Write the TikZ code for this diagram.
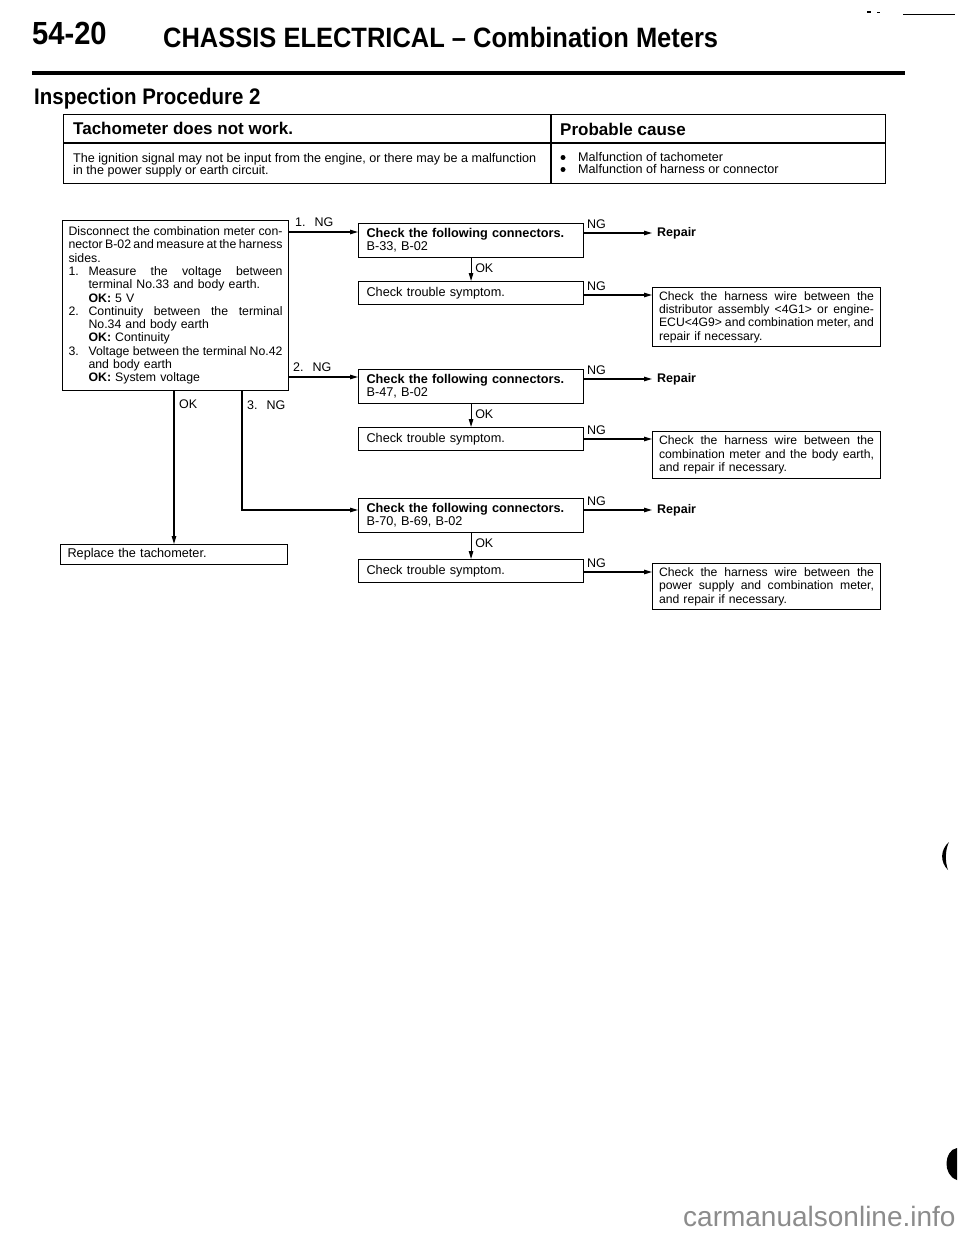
\documentclass[tikz,border=0pt]{standalone}
\usepackage{fontspec}
\setmainfont{Liberation Sans}
\newfontfamily\condfont[FakeStretch=0.91]{Liberation Sans}
\usetikzlibrary{arrows.meta,calc}
\newcommand{\jl}[2]{\leavevmode\hbox to #1{\spaceskip=0.27em plus 1fil minus 0.12em\relax #2}}
\newcommand{\il}[3]{\leavevmode\hbox to #1{\spaceskip=0.27em plus 1fil minus 0.12em\relax\hbox to 20pt{#2\hss}#3}}
\newcommand{\ic}[1]{\hspace*{20pt}#1}
\begin{document}
\begin{tikzpicture}[x=1pt,y=-1pt,
  frame/.style={draw, line width=1.1pt, anchor=north west, align=left, inner ysep=0pt},
  lbox/.style={text width=214pt, inner xsep=6pt, font=\fontsize{12.3}{13.3}\selectfont},
  mbox/.style={text width=209pt, inner xsep=8pt, font=\fontsize{12.7}{13}\selectfont},
  wbox/.style={text width=215pt, inner xsep=6.5pt, font=\fontsize{12.2}{13.3}\selectfont},
  lbl/.style={anchor=base west, inner sep=0pt, font=\fontsize{12.5}{14}\selectfont},
  rep/.style={anchor=west, inner xsep=5pt, inner ysep=0pt, font=\bfseries\fontsize{12.5}{14}\selectfont},
  arr/.style={line width=1.1pt, -{Triangle[length=8pt,width=4.5pt]}},
  ln/.style={line width=1.1pt}]
\useasboundingbox (0,0) rectangle (960,1239);
\fill[white] (0,0) rectangle (960,1239);

% header
\node[anchor=base west, inner sep=0pt, font=\condfont\bfseries\fontsize{32}{36}\selectfont] (pg) at (32,45) {54-20};
\node[anchor=base west, inner sep=0pt, font=\condfont\bfseries\fontsize{28}{32}\selectfont] (title) at (163,48) {CHASSIS ELECTRICAL – Combination Meters};
\draw[line width=4pt] (32,73) -- (905,73);
\node[anchor=base west, inner sep=0pt, font=\condfont\bfseries\fontsize{22.5}{26}\selectfont] (insp) at (34,104) {Inspection Procedure 2};

% table
\node[draw, line width=1.3pt, anchor=north west, minimum width=822pt, minimum height=69pt, inner sep=0pt] (tbl) at (63,114) {};
\draw[line width=1.3pt] (tbl.west |- 0,143) -- (tbl.east |- 0,143);
\draw[line width=1.3pt] (tbl.north -| 551,0) -- (tbl.south -| 551,0);
\node[anchor=base west, inner sep=0pt, font=\bfseries\fontsize{17}{20}\selectfont] (sym) at (73,134) {Tachometer does not work.};
\node[anchor=base west, inner sep=0pt, font=\bfseries\fontsize{17}{20}\selectfont] (pc) at (560,135) {Probable cause};
\node[anchor=base west, inner sep=0pt, font=\fontsize{12.6}{12}\selectfont] (d1) at (73,162) {The ignition signal may not be input from the engine, or there may be a malfunction};
\node[anchor=base west, inner sep=0pt, font=\fontsize{12.6}{12}\selectfont] (d2) at (73,174) {in the power supply or earth circuit.};
\node[circle, fill, inner sep=0pt, minimum size=5pt] (b1) at (563,157.5) {};
\node[circle, fill, inner sep=0pt, minimum size=5pt] (b2) at (563,169.5) {};
\node[anchor=base west, inner sep=0pt, font=\fontsize{12.6}{12}\selectfont] (c1) at (578,161) {Malfunction of tachometer};
\node[anchor=base west, inner sep=0pt, font=\fontsize{12.6}{12}\selectfont] (c2) at (578,173) {Malfunction of harness or connector};

% left column
\node[frame, lbox, minimum height=170pt] (L) at (62,220) {%
\jl{214pt}{Disconnect the combination meter con-}\\
\jl{214pt}{nector B-02 and measure at the harness}\\
sides.\\
\il{214pt}{1.}{Measure the voltage between}\\
\ic{terminal No.33 and body earth.}\\
\ic{\textbf{OK:} 5 V}\\
\il{214pt}{2.}{Continuity between the terminal}\\
\ic{No.34 and body earth}\\
\ic{\textbf{OK:} Continuity}\\
\il{214pt}{3.}{Voltage between the terminal No.42}\\
\ic{and body earth}\\
\ic{\textbf{OK:} System voltage}};
\node[frame, text width=213pt, inner xsep=7pt, minimum height=20pt, font=\fontsize{12.7}{13}\selectfont] (R) at (60,544) {Replace the tachometer.};

% middle column
\node[frame, mbox, minimum height=34pt] (m1) at (358,223) {\textbf{Check the following connectors.}\\B-33, B-02};
\node[frame, mbox, minimum height=23pt] (m2) at (358,281) {Check trouble symptom.};
\node[frame, mbox, minimum height=34pt] (m3) at (358,369) {\textbf{Check the following connectors.}\\B-47, B-02};
\node[frame, mbox, minimum height=23pt] (m4) at (358,427) {Check trouble symptom.};
\node[frame, mbox, minimum height=34pt] (m5) at (358,498) {\textbf{Check the following connectors.}\\B-70, B-69, B-02};
\node[frame, mbox, minimum height=23pt] (m6) at (358,559) {Check trouble symptom.};

% right column
\node[rep] (r1) at (652,233) {Repair};
\node[frame, wbox, minimum height=59pt] (h1) at (652,287) {%
\jl{215pt}{Check the harness wire between the}\\
\jl{215pt}{distributor assembly <4G1> or engine-}\\
\jl{215pt}{ECU<4G9> and combination meter, and}\\
repair if necessary.};
\node[rep] (r2) at (652,379) {Repair};
\node[frame, wbox, minimum height=47pt] (h2) at (652,431) {%
\jl{215pt}{Check the harness wire between the}\\
\jl{215pt}{combination meter and the body earth,}\\
and repair if necessary.};
\node[rep] (r3) at (652,510) {Repair};
\node[frame, wbox, minimum height=46pt] (h3) at (652,563) {%
\jl{215pt}{Check the harness wire between the}\\
\jl{215pt}{power supply and combination meter,}\\
and repair if necessary.};

% connectors from the left box
\draw[arr] (L.east |- 0,232) -- (m1.west |- 0,232);
\node[lbl] (n1) at (295,226) {1.\hspace{9pt}NG};
\draw[arr] (L.east |- 0,377) -- (m3.west |- 0,377);
\node[lbl] (n2) at (293,371) {2.\hspace{9pt}NG};
\draw[arr] (L.south -| 242,0) |- (m5.west |- 0,510);
\node[lbl] (n3) at (247,409) {3.\hspace{9pt}NG};
\draw[arr] (L.south -| 174,0) -- (R.north -| 174,0);
\node[lbl] (ok0) at (179,408) {OK};

% OK arrows in the middle
\draw[arr] (m1.south) -- (m2.north);
\node[lbl] (ok1) at ($(m1.south)+(4,14)$) {OK};
\draw[arr] (m3.south) -- (m4.north);
\node[lbl] (ok2) at ($(m3.south)+(4,14)$) {OK};
\draw[arr] (m5.south) -- (m6.north);
\node[lbl] (ok3) at ($(m5.south)+(4,14)$) {OK};

% NG arrows to the right
\draw[arr] (m1.east |- 0,233) -- (r1.west);
\node[lbl] (g1) at (587,228) {NG};
\draw[arr] (m2.east |- 0,295) -- (h1.west |- 0,295);
\node[lbl] (g2) at (587,290) {NG};
\draw[arr] (m3.east |- 0,379) -- (r2.west);
\node[lbl] (g3) at (587,374) {NG};
\draw[arr] (m4.east |- 0,439) -- (h2.west |- 0,439);
\node[lbl] (g4) at (587,434) {NG};
\draw[arr] (m5.east |- 0,510) -- (r3.west);
\node[lbl] (g5) at (587,505) {NG};
\draw[arr] (m6.east |- 0,572) -- (h3.west |- 0,572);
\node[lbl] (g6) at (587,567) {NG};

% scan marks
\draw[line width=0.8pt] (903,14) -- (955,14);
\fill (867,11) rectangle (871,13);
\fill (877,12) rectangle (880,13);
\fill (949,842) .. controls (940,850) and (940,862) .. (948,870) .. controls (945,862) and (945,850) .. (949,842) -- cycle;
\fill (957,1148) .. controls (944,1150) and (942,1175) .. (957,1180) -- cycle;

% watermark
\node[anchor=base west, inner sep=0pt, text=black!45, font=\fontsize{28}{30}\selectfont] (wm) at (683,1226) {carmanualsonline.info};
\end{tikzpicture}
\end{document}
